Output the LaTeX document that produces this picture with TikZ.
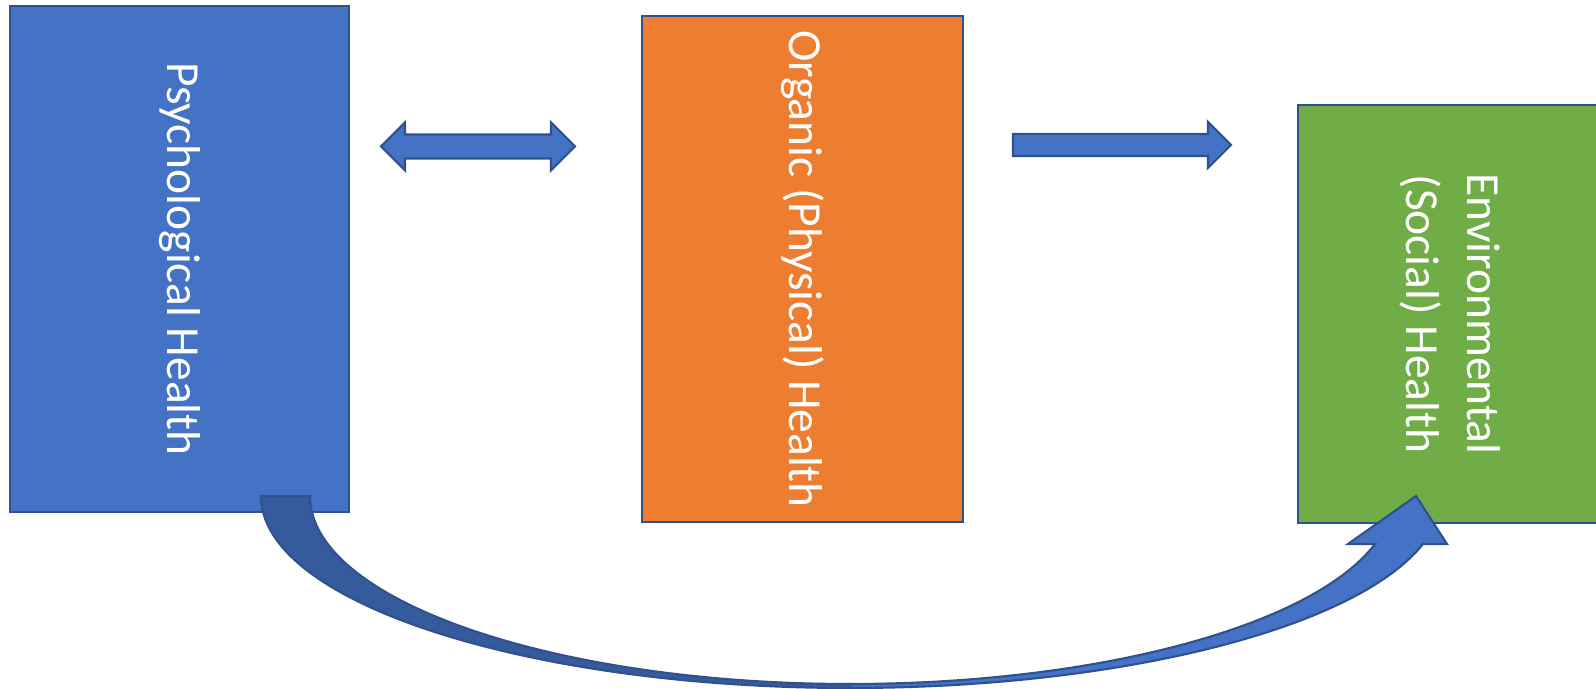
\documentclass[tikz,border=0pt]{standalone}
\usepackage{fontspec}
\setmainfont{Carlito}
\usetikzlibrary{positioning, calc}
\definecolor{psyBlue}{HTML}{4472C4}
\definecolor{orgOrange}{HTML}{ED7D31}
\definecolor{envGreen}{HTML}{70AD47}
\definecolor{edgeBlue}{HTML}{2F528F}
\definecolor{backBlue}{HTML}{365B9D}

\begin{document}
\begin{tikzpicture}[x=0.01cm, y=-0.01cm,
        panel/.style={rectangle, draw=edgeBlue, line width=0.6pt, rotate=-90, align=center, text=white, inner sep=0pt, font=\fontsize{13.5}{17.4}\selectfont},
        blockarrow/.style={fill=psyBlue, draw=edgeBlue, line width=0.6pt, line join=miter}]
    \useasboundingbox (0,0) rectangle (1596,689);

    % Health areas
    \node[panel, fill=psyBlue, minimum width=5.06cm, minimum height=3.39cm] (psych) at (179.5,259) {Psychological Health};
    \node[panel, fill=orgOrange, minimum width=5.06cm, minimum height=3.21cm] (organic) at (802.5,269) {Organic (Physical) Health};
    \node[panel, fill=envGreen, minimum width=4.18cm, minimum height=3.04cm] (env) at (1450,314) {Environmental\\(Social) Health};

    % Block arrows
    \coordinate (dblL) at (381,146.5);
    \coordinate (dblR) at (575,146.5);
    \draw[blockarrow] (dblL) -- ++(24,-24) -- ++(0,12) -- ($(dblR)+(-24,-12)$) -- ++(0,-12) -- (dblR)
        -- ++(-24,24) -- ++(0,-12) -- ($(dblL)+(24,12)$) -- ++(0,12) -- cycle;

    \coordinate (oneL) at (1013,145);
    \coordinate (oneR) at (1231,145);
    \draw[blockarrow] ($(oneL)+(0,-11)$) -- ($(oneR)+(-23,-11)$) -- ++(0,-12) -- (oneR)
        -- ++(-23,23) -- ++(0,-12) -- ($(oneL)+(0,11)$) -- cycle;

    % Curved arrow, back side then front side
    \coordinate (bend) at (850,688);
    \coordinate (tip) at (1416,496);
    \draw[blockarrow, fill=backBlue] (261,496) .. controls (261,602) and (525.7,688) .. (bend)
        -- (850,684) .. controls (551.8,684) and (310,599.8) .. (310,496) -- cycle;
    \draw[blockarrow] (bend) .. controls (1120,688) and (1355.5,628.8) .. (1423,544) -- (1447,544) -- (tip)
        -- (1348,544) -- (1375,544) .. controls (1312,626.5) and (1096.5,684) .. (850,684) -- cycle;
\end{tikzpicture}
\end{document}
